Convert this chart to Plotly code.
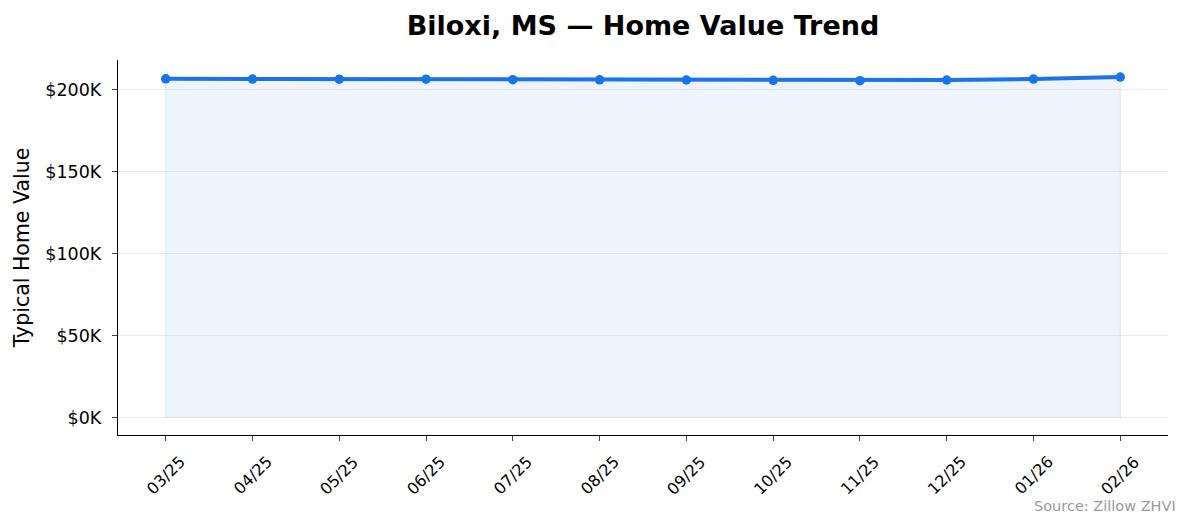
import plotly.graph_objects as go

months = ['03/25', '04/25', '05/25', '06/25', '07/25', '08/25',
          '09/25', '10/25', '11/25', '12/25', '01/26', '02/26']
home_values = [206500, 206400, 206300, 206300, 206000, 205900,
               205800, 205600, 205400, 205800, 206400, 207600]
y_ticks = [0, 50000, 100000, 150000, 200000]
y_tick_labels = ['$0K', '$50K', '$100K', '$150K', '$200K']

blue = '#1a73e8'
idx = list(range(len(months)))

fig = go.Figure()
# shaded area under the line (closed polygon, like fill_between)
fig.add_trace(go.Scatter(x=[idx[0]] + idx + [idx[-1]], y=[0] + home_values + [0],
                         fill='toself', fillcolor='rgba(26,115,232,0.08)',
                         line=dict(color='rgba(26,115,232,0.12)', width=1),
                         mode='lines', hoverinfo='skip', showlegend=False))
fig.add_trace(go.Scatter(x=idx, y=home_values, mode='lines+markers',
                         line=dict(color=blue, width=4), marker=dict(color=blue, size=9.5),
                         showlegend=False,
                         hovertemplate='%{y:$,.0f}<extra></extra>'))

# rotated month labels centred under each tick (matplotlib style)
annotations = [dict(text=m, x=i, y=-(475.5 - 435) / 375, xref='x', yref='paper',
                    textangle=-45, showarrow=False, xanchor='center', yanchor='middle',
                    font=dict(size=16)) for i, m in zip(idx, months)]
annotations.append(dict(text='Source: Zillow ZHVI', xref='paper', yref='paper',
                        x=(1178 - 118) / 1050, y=-(506 - 435) / 375, xanchor='right',
                        yanchor='middle', showarrow=False,
                        font=dict(size=14.5, color='#999999')))

# page body has an 8px margin, so the figure is sized/offset for it
fig.update_layout(
    width=1186, height=521, plot_bgcolor='white', paper_bgcolor='white',
    font=dict(family='DejaVu Sans', color='black'),
    margin=dict(l=110, r=26, t=52, b=94),
    title=dict(text='<b>Biloxi, MS — Home Value Trend</b>', x=(110 + 1160) / 2 / 1186,
               xanchor='center', y=1 - 18 / 521, yanchor='middle', font=dict(size=27)),
    xaxis=dict(range=[-0.55, 11.55], tickvals=idx, showticklabels=False,
               showgrid=False, zeroline=False, showline=True, linecolor='black', linewidth=1.3,
               ticks='outside', ticklen=5, tickwidth=1.3),
    yaxis=dict(range=[-10380, 217980], tickvals=y_ticks, ticktext=y_tick_labels,
               showgrid=True, gridcolor='rgba(0,0,0,0.08)', gridwidth=1, zeroline=False,
               showline=True, linecolor='black', linewidth=1.3,
               ticks='outside', ticklen=5, tickwidth=1.3, tickfont=dict(size=17.5),
               ticklabelstandoff=7,
               title=dict(text='Typical Home Value', font=dict(size=20.5), standoff=10)),
    annotations=annotations,
)

fig.write_html('out.html')
